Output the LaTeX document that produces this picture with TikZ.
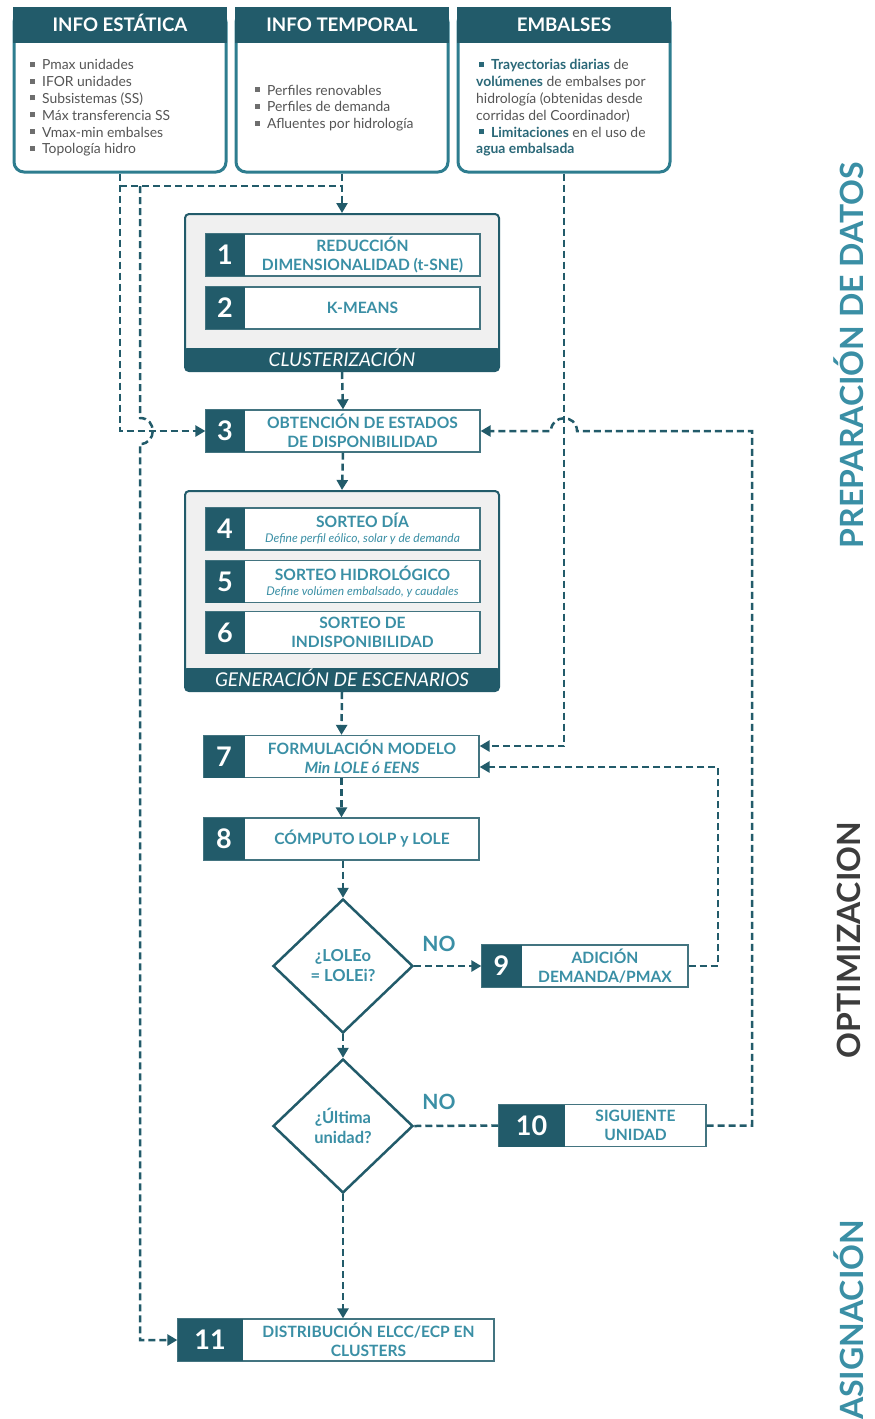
\documentclass[tikz,border=0pt]{standalone}
\usepackage{fontspec}
\setmainfont{Lato}
\usetikzlibrary{arrows.meta,shapes.geometric}
\definecolor{dk}{HTML}{225B6A}
\definecolor{tl}{HTML}{3A8FA5}
\definecolor{bd}{HTML}{2E7D8F}
\definecolor{gtx}{HTML}{555555}
\definecolor{panelc}{HTML}{F0F0F0}
\definecolor{optg}{HTML}{3C3C3C}
\definecolor{dkt}{HTML}{2A6878}
\newcommand\bul{\textcolor{gtx!85}{\rule[0.22em]{0.36em}{0.36em}}\hspace{0.5em}}
\newcommand\bulb{\textcolor{dkt}{\rule[0.22em]{0.36em}{0.36em}}\hspace{0.5em}}
\newcommand\mkstep[7]{%
  \node[stepframe, minimum width=#4, minimum height=42] (#1) at (#2,#3) {};
  \node[stepnum, minimum width=#5, minimum height=42, anchor=west] (#1n) at (#1.west) {#6};
  \node[steptext] (#1t) at ({#2+#5/2},#3) {#7};
}
\begin{document}
\begin{tikzpicture}[x=1pt,y=-1pt,
  dline/.style={draw=dk, line width=2.5pt, dash pattern=on 7pt off 4pt},
  arr/.style={-{Triangle[length=10pt,width=11pt]}},
  topbox/.style={draw=bd, line width=3pt, rounded corners=10pt, fill=white},
  tophead/.style={fill=dk, text=white, font=\fontsize{18.7}{21}\selectfont\bfseries, inner sep=0pt, text height=13.5pt, text depth=0pt},
  listtext/.style={anchor=west, align=left, text=gtx, font=\fontsize{13.9}{16.8}\selectfont, inner sep=0pt},
  panelbox/.style={draw=dk, line width=2pt, fill=panelc, rounded corners=4pt},
  footer/.style={fill=dk, text=white, font=\fontsize{19}{21}\selectfont\itshape, inner sep=0pt, rounded corners=2pt, text height=13.5pt, text depth=0pt},
  stepframe/.style={draw=dk!85, line width=1.3pt, fill=white, inner sep=0pt},
  stepnum/.style={fill=dk, text=white, font=\fontsize{27}{30}\selectfont\bfseries, inner sep=0pt},
  steptext/.style={align=center, text=tl, font=\fontsize{15.6}{19}\selectfont\bfseries, inner sep=0pt},
  dec/.style={diamond, draw=dk, line width=2.5pt, fill=white, minimum width=140, minimum height=134, inner sep=0pt, align=center, text=tl, font=\fontsize{16.5}{20}\selectfont\bfseries},
  nolab/.style={text=tl, font=\fontsize{21}{24}\selectfont\bfseries, inner sep=0pt},
  sidelab/.style={rotate=90, font=\fontsize{32}{36}\selectfont\bfseries, inner sep=0pt}
]
\useasboundingbox (0,0) rectangle (875,1419);
\fill[white] (0,0) rectangle (875,1419);

% top boxes
\node[topbox, minimum width=212, minimum height=160] (es) at (120,92) {};
\node[tophead, minimum width=214, minimum height=36] (esh) at (120,25) {INFO ESTÁTICA};
\node[listtext] (est) at (30,108) {\bul Pmax unidades\\ \bul IFOR unidades\\ \bul Subsistemas (SS)\\ \bul Máx transferencia SS\\ \bul Vmax-min embalses\\ \bul Topología hidro};

\node[topbox, minimum width=212, minimum height=160] (et) at (342,92) {};
\node[tophead, minimum width=214, minimum height=36] (eth) at (342,25) {INFO TEMPORAL};
\node[listtext] (ett) at (255,108) {\bul Perfiles renovables\\ \bul Perfiles de demanda\\ \bul Afluentes por hidrología};

\node[topbox, minimum width=212, minimum height=160] (eb) at (564,92) {};
\node[tophead, minimum width=214, minimum height=36] (ebh) at (564,25) {EMBALSES};
\node[listtext] (ebt) at (476,108) {\hspace{3pt}\bulb\textcolor{dkt}{\bfseries Trayectorias diarias} de\\ \textcolor{dkt}{\bfseries volúmenes} de embalses por\\ hidrología (obtenidas desde\\ corridas del Coordinador)\\ \hspace{3pt}\bulb\textcolor{dkt}{\bfseries Limitaciones} en el uso de\\ \textcolor{dkt}{\bfseries agua embalsada}};

% clusterization panel
\node[panelbox, minimum width=314, minimum height=157] (clu) at (342,292.5) {};
\node[footer, minimum width=314, minimum height=23] (clul) at (342,359.5) {CLUSTERIZACIÓN};
\mkstep{s1}{343}{255}{274}{39}{1}{REDUCCIÓN\\DIMENSIONALIDAD (t-SNE)}
\mkstep{s2}{343}{308}{274}{39}{2}{K-MEANS}

\mkstep{s3}{343}{431}{274}{39}{3}{OBTENCIÓN DE ESTADOS\\DE DISPONIBILIDAD}

% generation panel
\node[panelbox, minimum width=314, minimum height=200] (gen) at (342,591) {};
\node[footer, minimum width=314, minimum height=23] (genl) at (342,679.5) {GENERACIÓN DE ESCENARIOS};
\mkstep{s4}{343}{529}{274}{39}{4}{SORTEO DÍA\\[-4pt]{\fontsize{12}{13}\selectfont\mdseries\itshape Define perfil eólico, solar y de demanda}}
\mkstep{s5}{343}{581.5}{274}{39}{5}{SORTEO HIDROLÓGICO\\[-4pt]{\fontsize{12}{13}\selectfont\mdseries\itshape Define volúmen embalsado, y caudales}}
\mkstep{s6}{343}{632.5}{274}{39}{6}{SORTEO DE\\INDISPONIBILIDAD}

\mkstep{s7}{341.5}{756.5}{275}{41}{7}{FORMULACIÓN MODELO\\{\itshape Min LOLE ó EENS}}
\mkstep{s8}{341.5}{839}{275}{41}{8}{CÓMPUTO LOLP y LOLE}

\node[dec] (d1) at (343,966) {¿LOLEo\\= LOLEi?};
\node[dec] (d2) at (343,1126) {¿Última\\unidad?};

\mkstep{s9}{585}{966}{206}{40}{9}{ADICIÓN\\DEMANDA/PMAX}
\mkstep{s10}{602.5}{1125.5}{207}{66}{10}{SIGUIENTE\\UNIDAD}
\mkstep{s11}{336}{1340}{316}{65}{11}{DISTRIBUCIÓN ELCC/ECP EN\\CLUSTERS}

\node[nolab] (no1) at (439,944) {NO};
\node[nolab] (no2) at (439,1102) {NO};

% side labels
\node[sidelab, text=tl] (l1) at (849,355) {PREPARACIÓN DE DATOS};
\node[sidelab, text=optg] (l2) at (849,940) {OPTIMIZACION};
\node[sidelab, text=tl] (l3) at (849,1320) {ASIGNACIÓN};

% connectors
\coordinate (a2) at (120,186);
\coordinate (c0) at (140,186);
\draw[dline,arr] (es.south) -- (es.south |- s3.west) -- (s3.west);
\draw[dline] (a2) -- (a2 -| et.south);
\draw[dline,arr] (et.south) -- (clu.north);
\draw[dline,arr] (c0) -- (140,418) .. controls (157,418) and (157,444) .. (140,444) -- (140,1340) -- (s11.west);
\draw[dline,arr] (eb.south) -- (564,746) -- ([yshift=10.5pt]s7.east);
\draw[dline,arr] (s10.east) -- (752,1125.5) -- (752,431) -- (577,431) .. controls (577,414) and (551,414) .. (551,431) -- (s3.east);
\draw[dline,arr] (s9.east) -- (718,966) -- (718,767) -- ([yshift=-10.5pt]s7.east);

\draw[dline,arr] (clu.south) -- (s3.north);
\draw[dline,arr] (s3.south) -- (gen.north);
\draw[dline,arr] (gen.south) -- (s7.north);
\draw[dline,arr] (s7.south) -- (s8.north);
\draw[dline,arr] (d1.north |- s8.south) -- (d1.north);
\draw[dline,arr] (d1.east) -- (s9.west);
\draw[dline,arr] (d1.south) -- (d2.north);
\draw[dline] (d2.east) -- (s10.west);
\draw[dline,arr] (d2.south) -- (d2.south |- s11.north);
\end{tikzpicture}
\end{document}
